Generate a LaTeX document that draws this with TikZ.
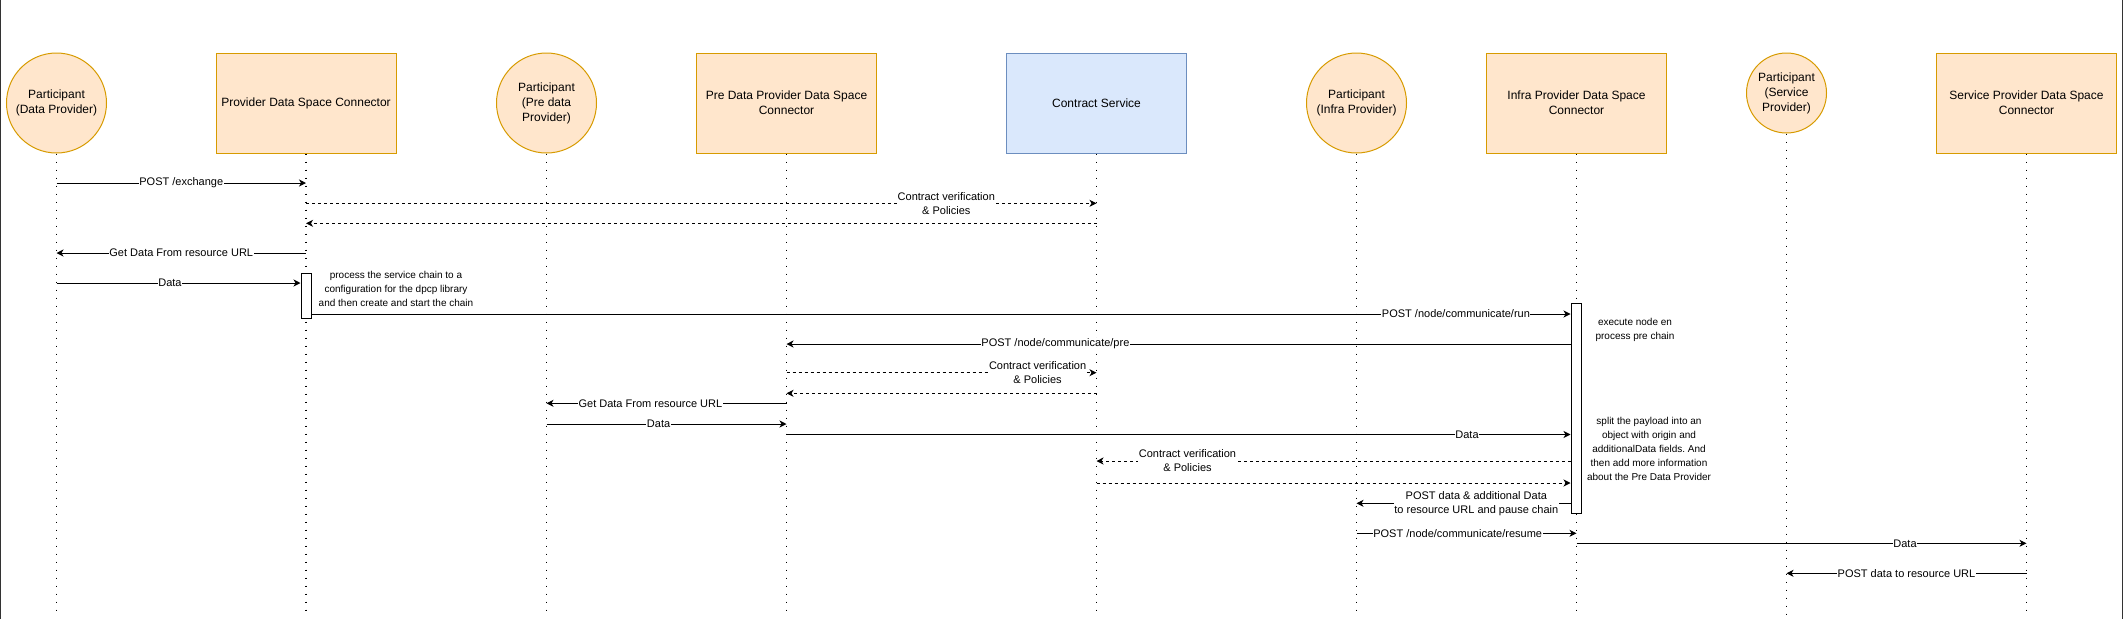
\documentclass[tikz,border=0pt]{standalone}
\usepackage{fontspec}
\setmainfont{Liberation Sans}
\frenchspacing
\usetikzlibrary{shapes,arrows.meta,positioning}
\definecolor{actorfill}{HTML}{FFE6CC}
\definecolor{actordraw}{HTML}{D79B00}
\definecolor{servfill}{HTML}{DAE8FC}
\definecolor{servdraw}{HTML}{6C8EBF}

\begin{document}
\begin{tikzpicture}[x=1pt, y=-1pt, node distance=240pt,
    participant/.style={circle, draw=actordraw, fill=actorfill, line width=1pt, minimum size=100pt, inner sep=0pt, align=center, font=\fontsize{12}{15}\selectfont},
    connector/.style={rectangle, draw=actordraw, fill=actorfill, line width=1pt, minimum width=180pt, minimum height=100pt, align=center, font=\fontsize{12}{15}\selectfont},
    service/.style={connector, draw=servdraw, fill=servfill},
    lifeline/.style={line width=1.3pt, dash pattern=on 1.3pt off 6.7pt},
    actbox/.style={rectangle, draw, fill=white, line width=1pt, minimum width=10pt, inner sep=0pt},
    msg/.style={-{Stealth[length=7pt, width=7pt, inset=2pt]}, line width=1pt},
    reply/.style={msg, dash pattern=on 3pt off 3pt},
    lbl/.style={fill=white, inner sep=0.5pt, align=center, font=\fontsize{11}{14}\selectfont},
    note/.style={align=center, font=\fontsize{10}{14}\selectfont}]
    \useasboundingbox (0,0) rectangle (2123,619);

    % frame
    \draw[line width=1pt, black!80] (0.5,0) -- (0.5,619);
    \draw[line width=1pt, black!80] (2122,0) -- (2122,619);

    % participants
    \node[participant] (p1) at (56.5,103) {Participant\\(Data Provider)};
    \node[connector, right of=p1, xshift=9.5pt] (pdsc) {Provider Data Space Connector};
    \node[participant, right of=pdsc, xshift=0.5pt] (ppre) {Participant\\(Pre data\\Provider)};
    \node[connector, right of=ppre] (predsc) {Pre Data Provider Data Space\\Connector};
    \node[service, right of=predsc, xshift=70pt] (contract) {Contract Service};
    \node[participant, right of=contract, xshift=20pt] (pinfra) {Participant\\(Infra Provider)};
    \node[connector, right of=pinfra, xshift=-20pt] (infdsc) {Infra Provider Data Space\\Connector};
    \node[participant, minimum size=80pt, right of=infdsc, xshift=-30pt, yshift=10pt] (psvc) {Participant\\(Service\\Provider)};
    \node[connector, right of=infdsc, xshift=210pt] (svcdsc) {Service Provider Data Space\\Connector};

    % lifelines
    \coordinate (bottom) at (0,617);
    \draw[lifeline] (p1.south) -- (p1 |- bottom);
    \draw[lifeline] (pdsc.south) -- (pdsc |- bottom);
    \draw[lifeline] (ppre.south) -- (ppre |- bottom);
    \draw[lifeline] (predsc.south) -- (predsc |- bottom);
    \draw[lifeline] (contract.south) -- (contract |- bottom);
    \draw[lifeline] (pinfra.south) -- (pinfra |- bottom);
    \draw[lifeline] (infdsc.south) -- (infdsc |- bottom);
    \draw[lifeline] (psvc.south) -- (psvc |- bottom);
    \draw[lifeline] (svcdsc.south) -- (svcdsc |- bottom);

    % activations
    \node[actbox, minimum height=45pt] (act1) at (306,295.5) {};
    \node[actbox, minimum height=210pt] (act2) at (1576,408) {};

    % message rows
    \coordinate (m1) at (0,183);
    \coordinate (m2) at (0,203.3);
    \coordinate (m3) at (0,223.3);
    \coordinate (m4) at (0,253);
    \coordinate (m5) at (0,283);
    \coordinate (m6) at (0,314);
    \coordinate (m7) at (0,344);
    \coordinate (m8) at (0,372.7);
    \coordinate (m9) at (0,393.3);
    \coordinate (m10) at (0,403.3);
    \coordinate (m11) at (0,424);
    \coordinate (m12) at (0,434.5);
    \coordinate (m13) at (0,461);
    \coordinate (m14) at (0,483);
    \coordinate (m15) at (0,503.3);
    \coordinate (m16) at (0,533.3);
    \coordinate (m17) at (0,543.3);
    \coordinate (m18) at (0,573.3);

    % messages
    \draw[msg] (p1 |- m1) -- node[lbl] {POST /exchange} (pdsc |- m1);
    \draw[reply] (pdsc |- m2) -- node[lbl, pos=0.81] {Contract verification\\\& Policies} (contract |- m2);
    \draw[reply] (contract |- m3) -- (pdsc |- m3);
    \draw[msg] (pdsc |- m4) -- node[lbl] {Get Data From resource URL} (p1 |- m4);
    \draw[msg] (p1 |- m5) -- node[lbl, pos=0.465] {Data} (act1.west |- m5);
    \draw[msg] (act1.east |- m6) -- node[lbl, pos=0.909] {POST /node/communicate/run} (act2.west |- m6);
    \draw[msg] (act2.west |- m7) -- node[lbl, pos=0.657] {POST /node/communicate/pre} (predsc |- m7);
    \draw[reply] (predsc |- m8) -- node[lbl, pos=0.81] {Contract verification\\\& Policies} (contract |- m8);
    \draw[reply] (contract |- m9) -- (predsc |- m9);
    \draw[msg] (predsc |- m10) -- node[lbl, pos=0.567] {Get Data From resource URL} (ppre |- m10);
    \draw[msg] (ppre |- m11) -- node[lbl, pos=0.467] {Data} (predsc |- m11);
    \draw[msg] (predsc |- m12) -- node[lbl, pos=0.868] {Data} (act2.west |- m12);
    \draw[reply] (act2.west |- m13) -- node[lbl, pos=0.808] {Contract verification\\\& Policies} (contract |- m13);
    \draw[reply] (contract |- m14) -- (act2.west |- m14);
    \draw[msg] (act2.west |- m15) -- node[lbl, pos=0.44] {POST data \& additional Data\\to resource URL and pause chain} (pinfra |- m15);
    \draw[msg] (pinfra |- m16) -- node[lbl, pos=0.46] {POST /node/communicate/resume} (infdsc |- m16);
    \draw[msg] (infdsc |- m17) -- node[lbl, pos=0.73] {Data} (svcdsc |- m17);
    \draw[msg] (svcdsc |- m18) -- node[lbl] {POST data to resource URL} (psvc |- m18);

    % notes
    \node[note] (n1) at (396,289) {process the service chain to a\\configuration for the dpcp library\\and then create and start the chain};
    \node[note] (n2) at (1635,329.5) {execute node en\\process pre chain};
    \node[note] (n3) at (1649,449) {split the payload into an\\object with origin and\\additionalData fields. And\\then add more information\\about the Pre Data Provider};
\end{tikzpicture}
\end{document}
